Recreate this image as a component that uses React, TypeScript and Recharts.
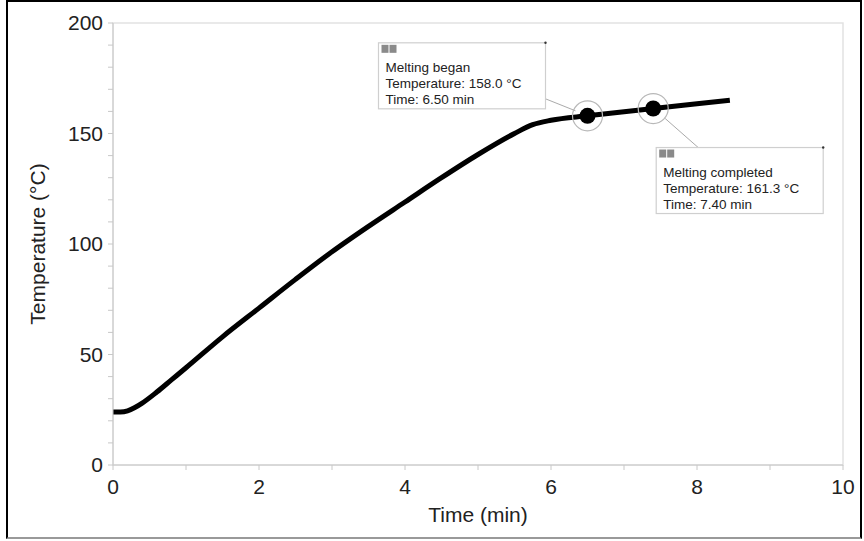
import React from "react";
import {
  ComposedChart,
  Line,
  Scatter,
  XAxis,
  YAxis,
  ReferenceArea,
} from "recharts";

const TIMES = [0, 0.1, 0.2, 0.3, 0.4, 0.6, 0.8, 1.0, 1.5, 2.0, 2.5, 3.0, 3.5, 4.0, 4.5, 5.0, 5.5, 5.75, 6.0, 6.5, 7.0, 7.4, 8.0, 8.45];
const TEMPS = [24, 24, 24.5, 26, 28, 33, 38.5, 44, 58, 71, 84, 96.5, 108, 119, 130, 140.5, 150, 154, 156, 158, 159.8, 161.3, 163.5, 165];

const EVENT_NAMES = ["Melting began", "Melting completed"];
const EVENT_TIMES = [6.5, 7.4];
const EVENT_TEMPS = [158.0, 161.3];

const X_TICKS = [0, 1, 2, 3, 4, 5, 6, 7, 8, 9, 10];
const Y_TICKS = [0, 10, 20, 30, 40, 50, 60, 70, 80, 90, 100, 110, 120, 130, 140, 150, 160, 170, 180, 190, 200];

const curve = TIMES.map((t, i) => ({ t, temp: TEMPS[i] }));
const events = EVENT_TIMES.map((t, i) => ({ t, temp: EVENT_TEMPS[i], name: EVENT_NAMES[i] }));

const FONT = "Arial, 'Liberation Sans', sans-serif";
const AXIS_GRAY = "#c8c8c8";

// where each callout box sits relative to its marker
const BOX_OFFSETS = [
  { dx: -209, dy: -73, lx1: -42, ly1: -17, lx2: -12, ly2: -5 },
  { dx: 3, dy: 39, lx1: 45, ly1: 39, lx2: 12, ly2: 10 },
];

function XTick({ x, y, payload }: any) {
  if (payload.value % 2 !== 0) return null;
  return (
    <text x={x} y={y + 22} textAnchor="middle" fontSize={21} fill="#222" fontFamily={FONT}>
      {payload.value}
    </text>
  );
}

function YTick({ x, y, payload }: any) {
  if (payload.value % 50 !== 0) return null;
  return (
    <text x={x} y={y + 7} textAnchor="end" fontSize={21} fill="#222" fontFamily={FONT}>
      {payload.value}
    </text>
  );
}

function EventMarker({ cx, cy, payload, index }: any) {
  const o = BOX_OFFSETS[index] || BOX_OFFSETS[0];
  const bx = cx + o.dx;
  const by = cy + o.dy;
  const w = 167;
  const h = 66;
  return (
    <g>
      <line x1={cx + o.lx1} y1={cy + o.ly1} x2={cx + o.lx2} y2={cy + o.ly2} stroke="#aaa" strokeWidth={1} />
      <circle cx={cx} cy={cy} r={15} fill="none" stroke="#b8b8b8" strokeWidth={1.2} />
      <circle cx={cx} cy={cy} r={8} fill="#000" />
      <rect x={bx} y={by} width={w} height={h} fill="#fff" stroke="#cfcfcf" strokeWidth={1.2} />
      <rect x={bx + 3} y={by + 2} width={7} height={8} fill="#8a8a8a" />
      <rect x={bx + 11} y={by + 2} width={7} height={8} fill="#8a8a8a" />
      <circle cx={bx + w} cy={by} r={1.2} fill="#333" />
      <text x={bx + 7} y={by + 29} fontSize={13.5} fill="#222" fontFamily={FONT}>
        {payload.name}
      </text>
      <text x={bx + 7} y={by + 45} fontSize={13.5} fill="#222" fontFamily={FONT}>
        {`Temperature: ${payload.temp.toFixed(1)} °C`}
      </text>
      <text x={bx + 7} y={by + 61} fontSize={13.5} fill="#222" fontFamily={FONT}>
        {`Time: ${payload.t.toFixed(2)} min`}
      </text>
    </g>
  );
}

export default function App() {
  return (
    <div style={{ position: "absolute", left: 0, top: 0, width: 864, height: 541, background: "#fff" }}>
      <div
        style={{
          position: "absolute",
          left: 6,
          top: 0,
          width: 856,
          height: 539,
          boxSizing: "border-box",
          borderTop: "2px solid #000",
          borderLeft: "2px solid #000",
          borderRight: "2px solid #000",
          borderBottom: "2px solid #999",
        }}
      />
      <ComposedChart
        width={864}
        height={541}
        margin={{ top: 23, right: 21, left: 53, bottom: 16 }}
        style={{ position: "absolute", left: 0, top: 0 }}
      >
        <ReferenceArea x1={0} x2={10} y1={0} y2={200} fill="none" stroke="#e2e2e2" strokeWidth={1.5} />
        <XAxis
          type="number"
          dataKey="t"
          domain={[0, 10]}
          ticks={X_TICKS}
          interval={0}
          allowDataOverflow
          height={60}
          stroke={AXIS_GRAY}
          tickSize={5}
          tickMargin={2}
          tick={<XTick />}
          label={{ value: "Time (min)", position: "insideBottom", offset: 3, fontSize: 21, fill: "#222", fontFamily: FONT }}
        />
        <YAxis
          type="number"
          dataKey="temp"
          domain={[0, 200]}
          ticks={Y_TICKS}
          interval={0}
          allowDataOverflow
          width={60}
          stroke={AXIS_GRAY}
          tickSize={5}
          tickMargin={5}
          tick={<YTick />}
          label={{
            value: "Temperature (°C)",
            angle: -90,
            position: "insideLeft",
            offset: -15,
            style: { textAnchor: "middle" },
            fontSize: 21,
            fill: "#222",
            fontFamily: FONT,
          }}
        />
        <Line
          data={curve}
          dataKey="temp"
          type="monotone"
          stroke="#000"
          strokeWidth={5}
          dot={false}
          isAnimationActive={false}
        />
        <Scatter data={events} dataKey="temp" shape={<EventMarker />} isAnimationActive={false} />
      </ComposedChart>
    </div>
  );
}
